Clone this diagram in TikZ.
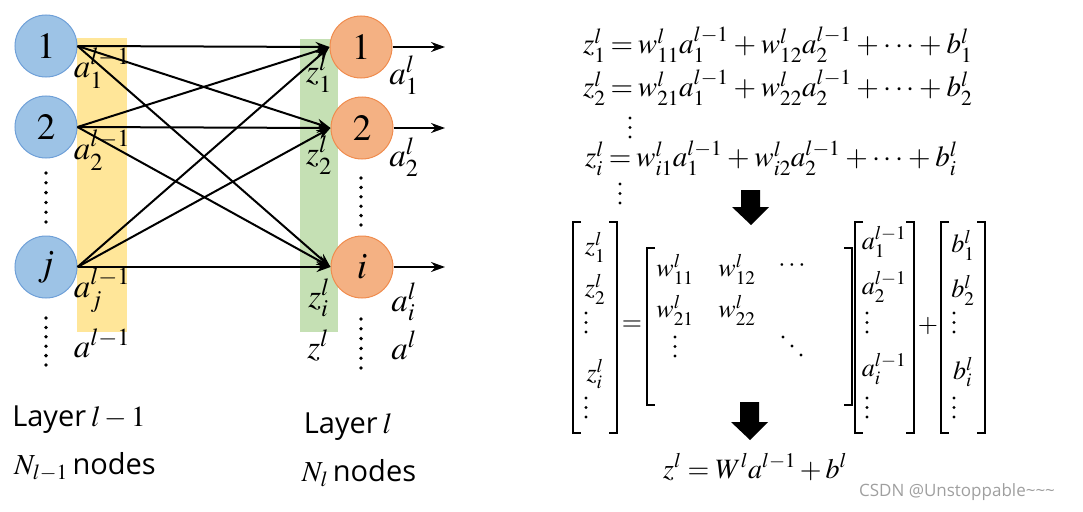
\documentclass[tikz,border=0pt]{standalone}
\usepackage{mathptmx}
\usepackage{fontspec}
\newfontfamily\layerfont{Open Sans}
\usetikzlibrary{arrows.meta}
\definecolor{inblue}{HTML}{9DC3E6}
\definecolor{inblueline}{HTML}{6FA0D8}
\definecolor{outred}{HTML}{F4B183}
\definecolor{outredline}{HTML}{F08C4E}
\definecolor{bandyellow}{HTML}{FFE699}
\definecolor{bandgreen}{HTML}{C5E0B4}
\newcommand\tightmath{\thickmuskip=3mu\medmuskip=3mu}
\tikzset{
  inneuron/.style={circle,draw=inblueline,fill=inblue,line width=1pt,minimum size=62pt,inner sep=0pt,font=\fontsize{37}{40}\selectfont},
  outneuron/.style={inneuron,draw=outredline,fill=outred},
  lab/.style={inner sep=0pt,font=\fontsize{33}{36}\selectfont},
  eq/.style={inner sep=0pt,anchor=west,font=\fontsize{29}{32}\selectfont\tightmath},
  ent/.style={inner sep=0pt,font=\fontsize{26}{28}\selectfont},
  layertxt/.style={inner sep=0pt,font=\fontsize{29}{32}\layerfont},
  wire/.style={line width=2pt,-{Stealth[length=14pt,width=10pt]}},
}
% a column of dots, three dots down, three dots aslant, and a square bracket
\newcommand\dotcol[3]{\foreach \k in {0,...,5} \fill (#1,#2+\k*#3) circle (1.9pt);}
\newcommand\vdotz[2]{\foreach \k in {0,1,2} \fill (#1,#2+\k*9.5) circle (1.7pt);}
\newcommand\ddotz[2]{\foreach \k in {0,1,2} \fill (#1+\k*9,#2+\k*9) circle (1.7pt);}
\newcommand\brak[4]{\draw[line width=1.2pt] (#1+#4,#2) -- (#1,#2) -- (#1,#3) -- (#1+#4,#3);}
\begin{document}
\begin{tikzpicture}[x=1pt,y=-1pt]
\useasboundingbox (0,0) rectangle (1083,511);
% bands
\fill[bandyellow] (77,38) rectangle (127,332);
\fill[bandgreen] (300,39) rectangle (338,332);
% layer l-1
\node[inneuron] (in1) at (46,46) {$1$};
\node[inneuron] (in2) at (46,127) {$2$};
\node[inneuron] (inj) at (46,267) {$j$};
% layer l
\node[outneuron] (out1) at (361,47) {$1$};
\node[outneuron] (out2) at (362,128) {$2$};
\node[outneuron] (outi) at (362,267) {$i$};
\foreach \a in {in1,in2,inj}
  \foreach \b in {out1,out2,outi}
    \draw[wire] (\a.east) -- (\b.west);
\coordinate (end1) at (445,47);
\coordinate (end2) at (445,128);
\coordinate (endi) at (445,267);
\draw[wire] (out1) -- (end1);
\draw[wire] (out2) -- (end2);
\draw[wire] (outi) -- (endi);
\dotcol{46}{173}{9.8}
\dotcol{46}{318}{9.4}
\dotcol{361}{178}{9.4}
\dotcol{361}{319}{9.8}
% labels
\node[lab] (a1) at (102,68) {$a_1^{l-1}$};
\node[lab] (a2) at (102,150) {$a_2^{l-1}$};
\node[lab] (aj) at (102,290) {$a_j^{l-1}$};
\node[lab] (aa) at (102,343) {$a^{l-1}$};
\node[lab] (z1) at (319,73) {$z_1^l$};
\node[lab] (z2) at (319,155) {$z_2^l$};
\node[lab] (zi) at (319,298) {$z_i^l$};
\node[lab] (zz) at (318,345) {$z^l$};
\node[lab] (o1) at (404,75) {$a_1^l$};
\node[lab] (o2) at (404,157) {$a_2^l$};
\node[lab] (oi) at (404,302) {$a_i^l$};
\node[lab] (oo) at (404,345) {$a^l$};
\node[layertxt] (lay1) at (79,420) {Layer\,$l-1$};
\node[layertxt] (nod1) at (85,467) {$N_{l-1}$\,nodes};
\node[layertxt] (lay2) at (348,427) {Layer\,$l$};
\node[layertxt] (nod2) at (359,473) {$N_l$\,nodes};
% equations
\node[eq] (e1) at (583,45) {$z_1^l = w_{11}^l a_1^{l-1} + w_{12}^l a_2^{l-1} + \cdots + b_1^l$};
\node[eq] (e2) at (583,88) {$z_2^l = w_{21}^l a_1^{l-1} + w_{22}^l a_2^{l-1} + \cdots + b_2^l$};
\node[eq] (e3) at (585,158) {$z_i^l = w_{i1}^l a_1^{l-1} + w_{i2}^l a_2^{l-1} + \cdots + b_i^l$};
\vdotz{630}{118}
\vdotz{620}{184}
\fill (741,190) -- (760,190) -- (760,207) -- (769,207) -- (751,225) -- (732,207) -- (741,207) -- cycle;
\fill (740,402) -- (759,402) -- (759,422) -- (768,422) -- (750,440) -- (731,422) -- (740,422) -- cycle;
% matrices
\brak{573}{222}{433}{8}
\brak{617}{222}{433}{-8}
\node[ent] (mz1) at (595,247) {$z_1^l$};
\node[ent] (mz2) at (595,289) {$z_2^l$};
\node[ent] (mzi) at (595,374) {$z_i^l$};
\vdotz{586}{313}
\vdotz{586}{398}
\node[ent] (eqs) at (632,326) {$=$};
\brak{647}{248}{405}{8}
\brak{852}{248}{405}{-8}
\node[ent] (w11) at (675,269) {$w_{11}^l$};
\node[ent] (w12) at (737,269) {$w_{12}^l$};
\node[ent] (wc) at (792,266) {$\cdots$};
\node[ent] (w21) at (675,310) {$w_{21}^l$};
\node[ent] (w22) at (737,310) {$w_{22}^l$};
\vdotz{675}{337}
\ddotz{783}{337}
\brak{855}{222}{433}{8}
\brak{914}{222}{433}{-8}
\node[ent] (ma1) at (884,242) {$a_1^{l-1}$};
\node[ent] (ma2) at (884,287) {$a_2^{l-1}$};
\node[ent] (mai) at (884,369) {$a_i^{l-1}$};
\vdotz{867}{313}
\vdotz{867}{398}
\node[ent] (pls) at (928,326) {$+$};
\brak{941}{222}{433}{8}
\brak{985}{222}{433}{-8}
\node[ent] (mb1) at (963,245) {$b_1^l$};
\node[ent] (mb2) at (963,290) {$b_2^l$};
\node[ent] (mbi) at (963,372) {$b_i^l$};
\vdotz{954}{313}
\vdotz{954}{398}
\node[inner sep=0pt,font=\fontsize{28}{32}\selectfont] (fin) at (755,467) {$z^l = W^l a^{l-1} + b^l$};
\node[inner sep=0pt,text=gray!75,font=\fontsize{17}{20}\layerfont] (mark) at (957,492) {CSDN @Unstoppable\textasciitilde\textasciitilde\textasciitilde};
\end{tikzpicture}
\end{document}
